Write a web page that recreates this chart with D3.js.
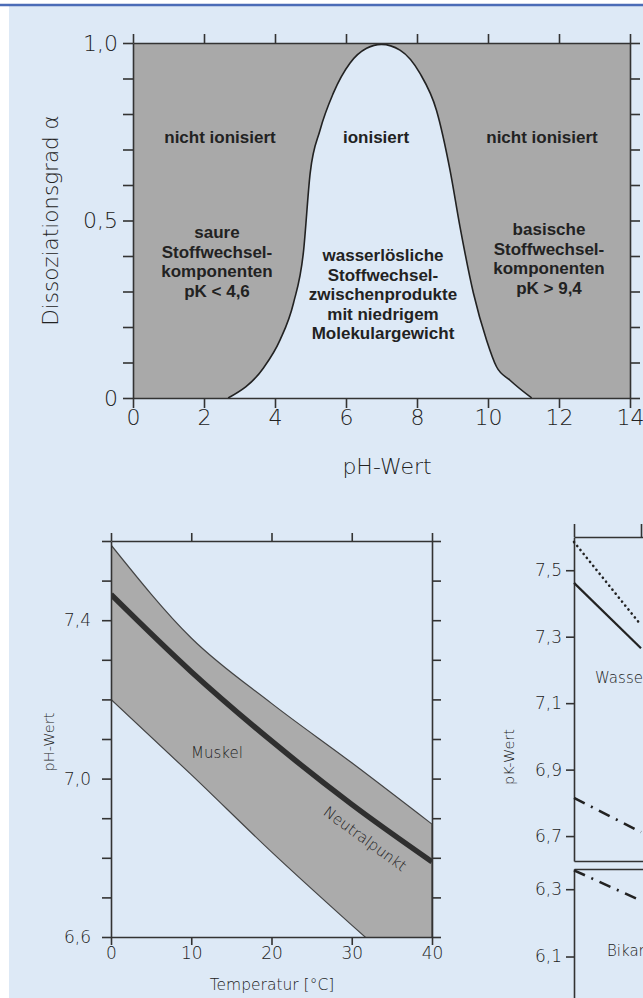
<!DOCTYPE html>
<html>
<head>
<meta charset="utf-8">
<script src="https://cdn.jsdelivr.net/npm/d3@7"></script>
<style>
  body { margin: 0; background: #fff; }
  svg { display: block; }
  .tick text { font-family: "DejaVu Sans", sans-serif; font-weight: 200; fill: #222; }
  .domain, .tick line { stroke: #333; stroke-width: 1.6; }
  .lbl { font-family: "Liberation Sans", Arial, sans-serif; font-weight: bold; font-size: 17px; fill: #222; text-anchor: middle; }
  .thin { font-family: "DejaVu Sans", sans-serif; font-weight: 200; fill: #222; }
</style>
</head>
<body>
<div id="chart"></div>
<script>
// --- top chart: Dissoziationsgrad vs pH
const phValues = [2.68, 3.67, 4.14, 4.52, 4.80, 4.99, 5.27, 5.64, 6.11, 6.58, 7.0, 7.52, 8.08, 8.55, 8.93, 9.21, 9.59, 9.96, 10.24, 10.62, 11.23];
const alphaValues = [0, 0.084, 0.163, 0.267, 0.41, 0.633, 0.755, 0.858, 0.943, 0.985, 0.996, 0.98, 0.915, 0.81, 0.642, 0.483, 0.295, 0.163, 0.088, 0.05, 0];
const phTicks = [0, 2, 4, 6, 8, 10, 12, 14];
const alphaTicks = [0, 0.1, 0.2, 0.3, 0.4, 0.5, 0.6, 0.7, 0.8, 0.9, 1.0];
const alphaLabels = { 0: "0", 0.5: "0,5", 1: "1,0" };

// --- bottom left: pH vs Temperatur
const tempC = [0, 10, 20, 30, 40];
const muskelUpper = [7.59, 7.355, 7.19, 7.04, 6.885];
const muskelLower = [7.20, 7.01, 6.815, 6.63, 6.45];
const neutralPunkt = [7.465, 7.27, 7.095, 6.935, 6.79];
const phLTicks = [6.6, 6.7, 6.8, 6.9, 7.0, 7.1, 7.2, 7.3, 7.4, 7.5, 7.6];
const phLLabels = [6.6, 7.0, 7.4];

// --- bottom right: pK vs Temperatur (cut off)
const tempR = [0, 10];
const pkDotted = [7.585, 7.335];
const pkSolid = [7.462, 7.265];
const pkDashUpper = [6.815, 6.712];
const pkDashLower = [6.356, 6.266];
const pkUpperTicks = [7.5, 7.3, 7.1, 6.9, 6.7];
const pkLowerTicks = [6.3, 6.1];

const W = 643, H = 998;
const bg = "#dde9f6";
const comma = d => d3.format(".1f")(d).replace(".", ",");

const svg = d3.select("#chart").append("svg").attr("width", W).attr("height", H);

svg.append("rect").attr("x", 9).attr("y", 6).attr("width", W - 9).attr("height", H - 6).attr("fill", bg);
svg.append("line").attr("x1", 0).attr("x2", W).attr("y1", 5).attr("y2", 5)
  .attr("stroke", "#4b6cb7").attr("stroke-width", 2.5);

// ================= top chart =================
const x = d3.scaleLinear([0, 14], [133, 630]);
const y = d3.scaleLinear([0, 1], [398, 43]);

svg.append("rect").attr("x", x(0)).attr("y", y(1))
  .attr("width", x(14) - x(0)).attr("height", y(0) - y(1)).attr("fill", "#a9a9a9");

const bell = phValues.map((p, i) => [p, alphaValues[i]]);
svg.append("path").datum(bell)
  .attr("fill", bg)
  .attr("d", d3.area().x(d => x(d[0])).y0(y(0)).y1(d => y(d[1])).curve(d3.curveMonotoneX));
svg.append("path").datum(bell)
  .attr("fill", "none").attr("stroke", "#222").attr("stroke-width", 1.6)
  .attr("d", d3.line().x(d => x(d[0])).y(d => y(d[1])).curve(d3.curveMonotoneX));

svg.append("g").attr("transform", `translate(${x(0)},0)`)
  .call(d3.axisLeft(y).tickValues(alphaTicks).tickSize(10).tickSizeOuter(0).tickPadding(5)
    .tickFormat(d => alphaLabels[Math.round(d * 10) / 10] || ""))
  .call(g => g.selectAll("text").attr("font-size", 22));
svg.append("g").attr("transform", `translate(${x(14)},0)`)
  .call(d3.axisRight(y).tickValues(alphaTicks).tickSize(10).tickSizeOuter(0).tickFormat(""));
svg.append("g").attr("transform", `translate(0,${y(1)})`)
  .call(d3.axisTop(x).tickValues(phTicks).tickSize(9).tickSizeOuter(0).tickFormat(""));
svg.append("g").attr("transform", `translate(0,${y(0)})`)
  .call(d3.axisBottom(x).tickValues(phTicks).tickSize(10).tickSizeOuter(0).tickPadding(1))
  .call(g => g.selectAll("text").attr("font-size", 22));

svg.append("text").attr("class", "thin").attr("font-size", 21.5).attr("text-anchor", "middle")
  .attr("transform", `translate(58,${y(0.5)}) rotate(-90)`).text("Dissoziationsgrad α");
svg.append("text").attr("class", "thin").attr("font-size", 22).attr("text-anchor", "middle")
  .attr("x", 387).attr("y", 474).text("pH-Wert");

const blocks = [
  { cx: 220, y0: 143, lines: ["nicht ionisiert"] },
  { cx: 376, y0: 143, lines: ["ionisiert"] },
  { cx: 542, y0: 143, lines: ["nicht ionisiert"] },
  { cx: 217, y0: 238, lines: ["saure", "Stoffwechsel-", "komponenten", "pK < 4,6"] },
  { cx: 383, y0: 261, lines: ["wasserlösliche", "Stoffwechsel-", "zwischenprodukte", "mit niedrigem", "Molekulargewicht"] },
  { cx: 549, y0: 235, lines: ["basische", "Stoffwechsel-", "komponenten", "pK > 9,4"] }
];
blocks.forEach(b => {
  svg.append("g").selectAll("text").data(b.lines).join("text")
    .attr("class", "lbl").attr("x", b.cx).attr("y", (d, i) => b.y0 + i * 19.6).text(d => d);
});

// ================= bottom left =================
const xL = d3.scaleLinear([0, 40], [111, 432]);
const yL = d3.scaleLinear([6.6, 7.6], [937, 541]);

svg.append("clipPath").attr("id", "clipL").append("rect")
  .attr("x", xL(0)).attr("y", yL(7.6)).attr("width", xL(40) - xL(0)).attr("height", yL(6.6) - yL(7.6));

const band = tempC.map((t, i) => ({ t, hi: muskelUpper[i], lo: muskelLower[i], n: neutralPunkt[i] }));
const gL = svg.append("g").attr("clip-path", "url(#clipL)");
gL.append("path").datum(band)
  .attr("fill", "#ababab").attr("stroke", "#444").attr("stroke-width", 1.2)
  .attr("d", d3.area().x(d => xL(d.t)).y0(d => yL(d.lo)).y1(d => yL(d.hi)).curve(d3.curveMonotoneX));
gL.append("path").datum(band)
  .attr("fill", "none").attr("stroke", "#2f2f2f").attr("stroke-width", 5.5)
  .attr("d", d3.line().x(d => xL(d.t)).y(d => yL(d.n)).curve(d3.curveMonotoneX));

svg.append("g").attr("transform", `translate(${xL(0)},0)`)
  .call(d3.axisLeft(yL).tickValues(phLTicks).tickSize(9).tickSizeOuter(0).tickPadding(11)
    .tickFormat(d => phLLabels.some(v => Math.abs(v - d) < 1e-6) ? comma(d) : ""))
  .call(g => g.selectAll("text").attr("font-size", 17));
svg.append("g").attr("transform", `translate(${xL(40)},0)`)
  .call(d3.axisRight(yL).tickValues(phLTicks).tickSize(9).tickSizeOuter(0).tickFormat(""));
svg.append("g").attr("transform", `translate(0,${yL(7.6)})`)
  .call(d3.axisTop(xL).tickValues(tempC).tickSize(8).tickSizeOuter(0).tickFormat(""));
svg.append("g").attr("transform", `translate(0,${yL(6.6)})`)
  .call(d3.axisBottom(xL).tickValues(tempC).tickSize(8).tickSizeOuter(0).tickPadding(2))
  .call(g => g.selectAll("text").attr("font-size", 17));

svg.append("text").attr("class", "thin").attr("font-size", 14.5).attr("text-anchor", "middle")
  .attr("transform", `translate(54,742) rotate(-90)`).text("pH-Wert");
svg.append("text").attr("class", "thin").attr("font-size", 15.5).attr("text-anchor", "middle")
  .attr("x", 272).attr("y", 990).text("Temperatur [°C]");
svg.append("text").attr("class", "thin").attr("font-size", 15).attr("font-weight", 400).attr("fill", "#333")
  .attr("text-anchor", "middle").attr("x", 217).attr("y", 758).text("Muskel");
svg.append("text").attr("class", "thin").attr("font-size", 15).attr("font-weight", 400).attr("fill", "#333")
  .attr("text-anchor", "middle").attr("transform", `translate(362,843) rotate(36)`).text("Neutralpunkt");

// ================= bottom right =================
const xR = d3.scaleLinear([0, 40], [574, 842]);
const yRU = d3.scaleLinear([6.625, 7.6], [861, 537]);
const yRL = d3.scaleLinear([5.95, 6.36], [1007, 869]);

svg.append("g").attr("transform", `translate(${xR(0)},0)`)
  .call(d3.axisLeft(yRU).tickValues(pkUpperTicks).tickSize(8).tickSizeOuter(0).tickPadding(4).tickFormat(comma))
  .call(g => g.selectAll("text").attr("font-size", 17));
svg.append("g").attr("transform", `translate(${xR(0)},0)`)
  .call(d3.axisLeft(yRL).tickValues(pkLowerTicks).tickSize(8).tickSizeOuter(0).tickPadding(4).tickFormat(comma))
  .call(g => g.selectAll("text").attr("font-size", 17));
svg.append("g").attr("transform", `translate(0,${yRU(7.6)})`)
  .call(d3.axisTop(xR).tickValues([0, 10, 20, 30, 40]).tickSize(13).tickSizeOuter(0).tickFormat(""));
svg.append("g").attr("transform", `translate(0,${yRU(6.625)})`)
  .call(d3.axisBottom(xR).tickValues([]).tickSizeOuter(0));
svg.append("g").attr("transform", `translate(0,${yRL(6.36)})`)
  .call(d3.axisTop(xR).tickValues([]).tickSizeOuter(0));

const pkLine = (vals, ys) => d3.line().x((d, i) => xR(tempR[i])).y(d => ys(d))(vals);
svg.append("path").attr("d", pkLine(pkDotted, yRU)).attr("fill", "none").attr("stroke", "#222")
  .attr("stroke-width", 2.6).attr("stroke-dasharray", "0.1,5").attr("stroke-linecap", "round");
svg.append("path").attr("d", pkLine(pkSolid, yRU)).attr("fill", "none").attr("stroke", "#222").attr("stroke-width", 2.2);
svg.append("path").attr("d", pkLine(pkDashUpper, yRU)).attr("fill", "none").attr("stroke", "#222")
  .attr("stroke-width", 2.6).attr("stroke-dasharray", "12,7,2,7");
svg.append("path").attr("d", pkLine(pkDashLower, yRL)).attr("fill", "none").attr("stroke", "#222")
  .attr("stroke-width", 2.6).attr("stroke-dasharray", "12,7,2,7");

svg.append("text").attr("class", "thin").attr("font-size", 14.5).attr("text-anchor", "middle")
  .attr("transform", `translate(514,757) rotate(-90)`).text("pK-Wert");
svg.append("text").attr("class", "thin").attr("font-size", 15).attr("font-weight", 400).attr("fill", "#333")
  .attr("x", 595).attr("y", 683).text("Wasser");
svg.append("text").attr("class", "thin").attr("font-size", 15).attr("font-weight", 400).attr("fill", "#333")
  .attr("x", 607).attr("y", 956).text("Bikarbonat");
</script>
</body>
</html>
